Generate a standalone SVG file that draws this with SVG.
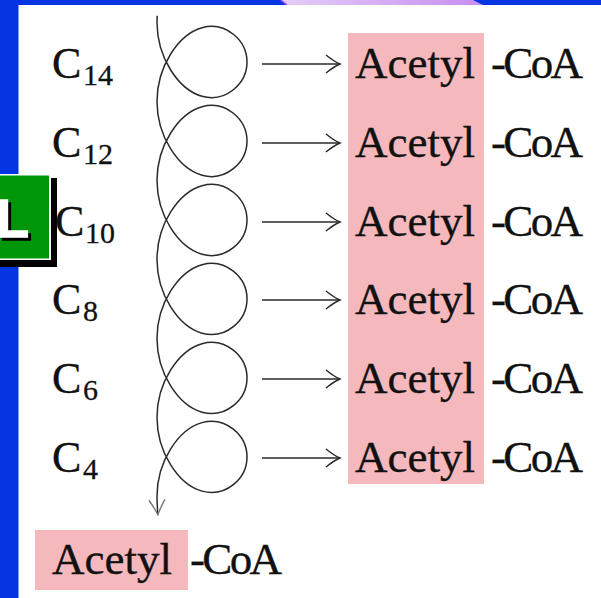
<svg xmlns="http://www.w3.org/2000/svg" width="601" height="598" viewBox="0 0 601 598">
<style>
.t{font-family:"Liberation Serif","Times New Roman",serif;fill:#111;font-size:45px;stroke:#111;stroke-width:0.35}
.c{font-family:"Liberation Serif","Times New Roman",serif;fill:#111;font-size:44px;stroke:#111;stroke-width:0.35}
.s{font-family:"Liberation Serif","Times New Roman",serif;fill:#111;font-size:30px;stroke:#111;stroke-width:0.3}
.pink{fill:#f4b8bd}
.arr{stroke:#2a2a2a;stroke-width:1.5;fill:none;marker-end:url(#ah)}
</style>
<defs>
<linearGradient id="pg" x1="0" y1="0" x2="1" y2="0">
<stop offset="0" stop-color="#e4cdf8"/>
<stop offset="1" stop-color="#c78ef0"/>
</linearGradient>
<marker id="ah" markerUnits="userSpaceOnUse" orient="auto" refX="0" refY="0" markerWidth="20" markerHeight="24" viewBox="-16 -12 20 24" overflow="visible">
<path d="M-14,-9 Q-6,-2.5 0,0 Q-6,2.5 -14,9" fill="none" stroke="#2a2a2a" stroke-width="1.4"/>
</marker>
<marker id="ahg" markerUnits="userSpaceOnUse" orient="auto" refX="0" refY="0" markerWidth="20" markerHeight="24" viewBox="-16 -12 20 24" overflow="visible">
<path d="M-15,-8 Q-6,-2.5 0,0 Q-6,2.5 -15,8" fill="none" stroke="#777" stroke-width="1.4"/>
</marker>
</defs>
<rect x="0" y="0" width="601" height="598" fill="#fff"/>
<g id="frame">
<rect x="0" y="0" width="601" height="5" fill="#0535e2"/>
<rect x="0" y="0" width="18.5" height="598" fill="#0535e2"/>
<polygon points="281,0 473,0 483,5 287,5" fill="url(#pg)"/>
<polyline points="281,0 287,5" stroke="#a558f0" stroke-width="1.5" fill="none"/>
</g>
<g id="badge">
<rect x="0" y="178" width="57" height="89" fill="#000"/>
<rect x="0" y="174" width="51" height="86" fill="#fff"/>
<rect x="0" y="175.5" width="49" height="83" fill="#00960a"/>
<text x="-1" y="240" font-family="Liberation Sans,Arial,sans-serif" font-weight="bold" font-size="54" fill="#000" stroke="#000" stroke-width="1.5">L</text>
<text x="-4" y="237" font-family="Liberation Sans,Arial,sans-serif" font-weight="bold" font-size="54" fill="#fff" stroke="#fff" stroke-width="1.5">L</text>
</g>
<g id="highlights">
<rect class="pink" x="348" y="33" width="136" height="451"/>
<rect class="pink" x="35" y="530" width="153" height="60"/>
</g>
<g id="connectors">
<path d="M157.2,15.8 L157,22.5 c0,34.86 21.44,67.165 45,73.745 c23.56,6.58 45,-12.565 45,-34.255 c0,-21.69 -21.44,-40.835 -45,-34.255 c-23.56,6.58 -45,38.885 -45,73.745 c0,34.86 21.44,67.165 45,73.745 c23.56,6.58 45,-12.565 45,-34.255 c0,-21.69 -21.44,-40.835 -45,-34.255 c-23.56,6.58 -45,38.885 -45,73.745 c0,34.86 21.44,67.165 45,73.745 c23.56,6.58 45,-12.565 45,-34.255 c0,-21.69 -21.44,-40.835 -45,-34.255 c-23.56,6.58 -45,38.885 -45,73.745 c0,34.86 21.44,67.165 45,73.745 c23.56,6.58 45,-12.565 45,-34.255 c0,-21.69 -21.44,-40.835 -45,-34.255 c-23.56,6.58 -45,38.885 -45,73.745 c0,34.86 21.44,67.165 45,73.745 c23.56,6.58 45,-12.565 45,-34.255 c0,-21.69 -21.44,-40.835 -45,-34.255 c-23.56,6.58 -45,38.885 -45,73.745 c0,34.86 21.44,67.165 45,73.745 c23.56,6.58 45,-12.565 45,-34.255 c0,-21.69 -21.44,-40.835 -45,-34.255 c-23.56,6.58 -45,38.885 -45,73.745 c0,7 0.5,13 0.8,18.4" fill="none" stroke="#2a2a2a" stroke-width="1.5" marker-end="url(#ahg)"/>
<line class="arr" x1="262" y1="64" x2="340" y2="64"/>
<line class="arr" x1="262" y1="143" x2="340" y2="143"/>
<line class="arr" x1="262" y1="222" x2="340" y2="222"/>
<line class="arr" x1="262" y1="300" x2="340" y2="300"/>
<line class="arr" x1="262" y1="379" x2="340" y2="379"/>
<line class="arr" x1="262" y1="458" x2="340" y2="458"/>
</g>
<g id="c14"><text class="c" x="52" y="78">C</text><text class="s" x="83" y="85">14</text></g>
<g id="c12"><text class="c" x="52" y="157">C</text><text class="s" x="83" y="164">12</text></g>
<g id="c10"><text class="c" x="55" y="236">C</text><text class="s" x="85" y="243">10</text></g>
<g id="c8"><text class="c" x="52" y="314">C</text><text class="s" x="83" y="321">8</text></g>
<g id="c6"><text class="c" x="52" y="393">C</text><text class="s" x="83" y="400">6</text></g>
<g id="c4"><text class="c" x="52" y="472">C</text><text class="s" x="83" y="479">4</text></g>
<g id="acoa1"><text class="t" x="355" y="78" textLength="120">Acetyl</text><text class="t" x="491" y="78" textLength="92">-CoA</text></g>
<g id="acoa2"><text class="t" x="355" y="157" textLength="120">Acetyl</text><text class="t" x="491" y="157" textLength="92">-CoA</text></g>
<g id="acoa3"><text class="t" x="355" y="236" textLength="120">Acetyl</text><text class="t" x="491" y="236" textLength="92">-CoA</text></g>
<g id="acoa4"><text class="t" x="355" y="314" textLength="120">Acetyl</text><text class="t" x="491" y="314" textLength="92">-CoA</text></g>
<g id="acoa5"><text class="t" x="355" y="393" textLength="120">Acetyl</text><text class="t" x="491" y="393" textLength="92">-CoA</text></g>
<g id="acoa6"><text class="t" x="355" y="472" textLength="120">Acetyl</text><text class="t" x="491" y="472" textLength="92">-CoA</text></g>
<g id="acoa-final"><text class="t" x="52" y="574" textLength="120">Acetyl</text><text class="t" x="190" y="574" textLength="92">-CoA</text></g>
</svg>
